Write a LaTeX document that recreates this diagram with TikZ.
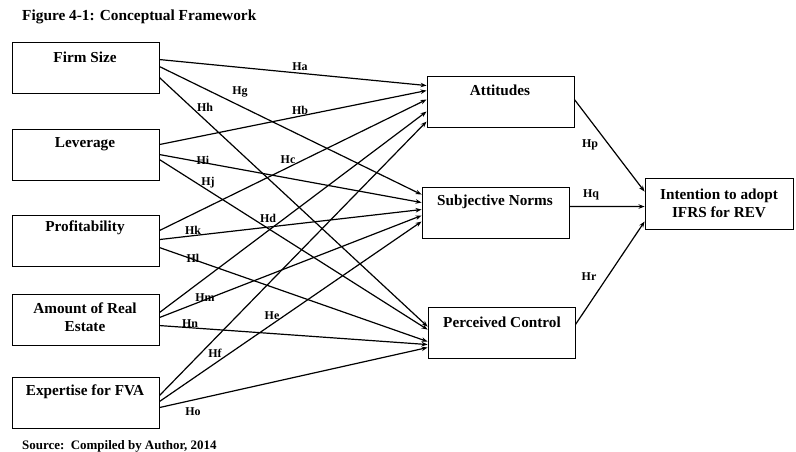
\documentclass[tikz,border=0pt]{standalone}
\usepackage{fontspec}
\setmainfont{Liberation Serif}
\usetikzlibrary{arrows.meta}
\begin{document}
\begin{tikzpicture}[x=1bp,y=-1bp,
  box/.style={draw, line width=0.9bp, minimum width=147bp, minimum height=51bp, inner sep=0pt},
  boxtxt/.style={font=\fontsize{15.3}{18}\selectfont\bfseries, align=center, inner sep=0pt},
  hyp/.style={font=\fontsize{12}{14}\selectfont\bfseries, inner sep=0pt},
  captxt/.style={font=\fontsize{13}{15}\selectfont\bfseries, inner sep=0pt, anchor=west},
  arr/.style={line width=1.2bp, -{Stealth[length=6bp,width=4.5bp]}}]
\useasboundingbox (0,0) rectangle (796,452);

% title and source
\node[captxt, font=\fontsize{15.4}{18}\selectfont\bfseries] (title) at (22,17) {Figure 4-1: Conceptual Framework};
\node[captxt] (src) at (22,446) {Source:\ \ Compiled by Author, 2014};

% left boxes
\node[box] (firm) at (85.5,67.5) {};
\node[box] (lev)  at (85.5,154.5) {};
\node[box] (prof) at (85.5,240.5) {};
\node[box] (amt)  at (85.5,319.5) {};
\node[box] (exp)  at (85.5,402.5) {};
% mediators
\node[box] (att) at (500.5,101.5) {};
\node[box] (sn)  at (495.5,212.5) {};
\node[box] (pc)  at (501.5,332.5) {};
% outcome
\node[box, minimum width=148bp] (int) at (719,203.5) {};

% box texts
\node[boxtxt] (tfirm) at (85,57) {Firm Size};
\node[boxtxt] (tlev)  at (85,144) {Leverage};
\node[boxtxt] (tprof) at (85,228) {Profitability};
\node[boxtxt] (tamt)  at (85,317) {Amount of Real\\Estate};
\node[boxtxt] (texp)  at (85,392) {Expertise for FVA};
\node[boxtxt] (tatt)  at (500,90) {Attitudes};
\node[boxtxt] (tsn)   at (495,202) {Subjective Norms};
\node[boxtxt] (tpc)   at (502,322) {Perceived Control};
\node[boxtxt] (tint)  at (719,203) {Intention to adopt\\IFRS for REV};

% connectors: Firm Size
\draw[arr] ([yshift=-18bp]firm.north east) -- ([yshift=-10bp]att.north west);
\draw[arr] ([yshift=-25bp]firm.north east) -- ([yshift=-8bp]sn.north west);
\draw[arr] ([yshift=-36bp]firm.north east) -- ([yshift=-20bp]pc.north west);
% Leverage
\draw[arr] ([yshift=-16bp]lev.north east) -- ([yshift=-15bp]att.north west);
\draw[arr] ([yshift=-26bp]lev.north east) -- ([yshift=-16bp]sn.north west);
\draw[arr] ([yshift=-31bp]lev.north east) -- ([yshift=-23bp]pc.north west);
% Profitability
\draw[arr] ([yshift=-16bp]prof.north east) -- ([yshift=-24bp]att.north west);
\draw[arr] ([yshift=-25bp]prof.north east) -- ([yshift=-23bp]sn.north west);
\draw[arr] ([yshift=-33bp]prof.north east) -- ([yshift=-35bp]pc.north west);
% Amount of Real Estate
\draw[arr] ([yshift=-19bp]amt.north east) -- ([yshift=-36bp]att.north west);
\draw[arr] ([yshift=-24bp]amt.north east) -- ([yshift=-29bp]sn.north west);
\draw[arr] ([yshift=-32bp]amt.north east) -- ([yshift=-38bp]pc.north west);
% Expertise for FVA
\draw[arr] ([yshift=-19bp]exp.north east) -- ([yshift=-46bp]att.north west);
\draw[arr] ([yshift=-25bp]exp.north east) -- ([yshift=-35bp]sn.north west);
\draw[arr] ([yshift=-31bp]exp.north east) -- ([yshift=-41bp]pc.north west);
% to intention
\draw[arr] ([yshift=-24bp]att.north east) -- ([yshift=-14bp]int.north west);
\draw[arr] ([yshift=-20bp]sn.north east) -- ([yshift=-29bp]int.north west);
\draw[arr] ([yshift=-18bp]pc.north east) -- ([yshift=-44bp]int.north west);

% hypothesis labels
\node[hyp] (ha) at (300,67) {Ha};
\node[hyp] (hg) at (240,92) {Hg};
\node[hyp] (hh) at (205,107) {Hh};
\node[hyp] (hb) at (300,110) {Hb};
\node[hyp] (hi) at (203,160) {Hi};
\node[hyp] (hc) at (288,160) {Hc};
\node[hyp] (hj) at (208,183) {Hj};
\node[hyp] (hd) at (268,218) {Hd};
\node[hyp] (hk) at (193,230) {Hk};
\node[hyp] (hl) at (193,258) {Hl};
\node[hyp] (hm) at (205,298) {Hm};
\node[hyp] (he) at (272,316) {He};
\node[hyp] (hn) at (190,324) {Hn};
\node[hyp] (hf) at (215,353) {Hf};
\node[hyp] (ho) at (193,412) {Ho};
\node[hyp] (hp) at (590,145) {Hp};
\node[hyp] (hq) at (591,195) {Hq};
\node[hyp] (hr) at (589,277) {Hr};
\end{tikzpicture}
\end{document}
